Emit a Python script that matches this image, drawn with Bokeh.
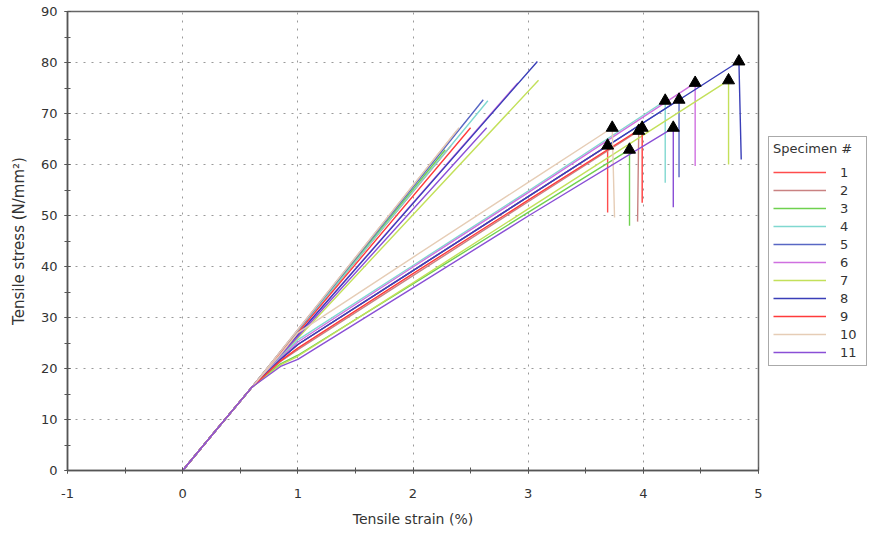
from bokeh.plotting import figure
from bokeh.models import Legend, LegendItem, SingleIntervalTicker
from bokeh.embed import file_html
from bokeh.resources import INLINE

# ---- data ----
specimens = ["1", "2", "3", "4", "5", "6", "7", "8", "9", "10", "11"]
colors = ["#ff4d4d", "#c98282", "#6fd14f", "#80d8d0", "#5867c4", "#cf70e0",
          "#c3e05a", "#3a3fb8", "#ff3b3b", "#e6cdb6", "#8a4fd6"]

# shared initial (elastic) part of every curve
knee_strain = [0.0, 0.3, 0.6]
knee_stress = [0.0, 8.2, 16.3]

# shallow curves: stress read at strain 0.85, 1, 2, 3 %
mid_strain = [0.85, 1.0, 2.0, 3.0]
stress_at_085 = [21.8, 21.4, 20.9, 22.2, 21.8, 22.0, 20.7, 21.8, 21.5, 22.8, 20.4]
stress_at_1 = [24.7, 23.7, 22.6, 25.6, 24.7, 25.2, 22.4, 24.7, 24.0, 27.0, 21.8]
stress_at_2 = [39.2, 38.2, 36.6, 40.2, 39.2, 39.9, 36.8, 39.2, 38.6, 41.8, 35.8]
stress_at_3 = [53.7, 52.7, 50.6, 54.8, 53.7, 54.5, 51.3, 53.7, 53.0, 56.5, 49.9]

# break points (triangles) and the drop after break
break_strain = [3.69, 3.96, 3.88, 4.19, 4.31, 4.45, 4.74, 4.83, 3.99, 3.73, 4.26]
break_stress = [63.7, 66.6, 62.9, 72.5, 72.7, 76.0, 76.5, 80.2, 67.2, 67.2, 67.2]
drop_strain = [3.69, 3.95, 3.88, 4.19, 4.31, 4.45, 4.74, 4.85, 3.99, 3.75, 4.26]
drop_stress = [50.6, 48.8, 48.0, 56.4, 57.5, 59.7, 60.0, 61.0, 52.5, 49.6, 51.6]

# steep curves end at the same stress as the break
steep_end_strain = [2.33, 2.38, 2.28, 2.65, 2.61, 2.91, 3.09, 3.08, 2.50, 2.40, 2.64]

FONT = "DejaVu Sans"

BL, BT = 67, 11
FW, FH = 691, 459
p = figure(frame_width=FW, frame_height=FH, x_range=(-1, 5), y_range=(0, 90),
           output_backend="svg", toolbar_location=None,
           min_border_left=BL, min_border_right=106,
           min_border_top=BT, min_border_bottom=57)

p.outline_line_color = "#666666"
p.outline_line_width = 1.5

for ax in (p.xaxis, p.yaxis):
    ax.axis_line_color = "#555555"
    ax.axis_line_width = 1.5
    ax.major_tick_line_color = "#555555"
    ax.minor_tick_line_color = "#555555"
    ax.major_tick_in = 3
    ax.major_tick_out = 3
    ax.minor_tick_in = 3
    ax.minor_tick_out = 3
    ax.major_label_text_font = FONT
    ax.major_label_text_font_size = "13px"
    ax.major_label_text_color = "#333333"
    ax.axis_label_text_font = FONT
    ax.axis_label_text_font_style = "normal"
    ax.axis_label_text_color = "#333333"

p.xaxis.ticker = SingleIntervalTicker(interval=1, num_minor_ticks=2)
p.yaxis.ticker = SingleIntervalTicker(interval=10, num_minor_ticks=2)
p.xaxis.major_label_overrides = {-1: "-1"}
p.xaxis.axis_label = "Tensile strain (%)"
p.yaxis.axis_label = "Tensile stress (N/mm²)"
p.xaxis.axis_label_text_font_size = "14px"
p.yaxis.axis_label_text_font_size = "15px"
p.xaxis.major_label_standoff = 15
p.yaxis.major_label_standoff = 7
p.xaxis.axis_label_standoff = 10
p.yaxis.axis_label_standoff = 10

p.grid.grid_line_color = "#9a9a9a"
p.grid.grid_line_dash = "2 6"
p.grid.grid_line_width = 1

# steep curves
for i in range(len(specimens)):
    xs = knee_strain + [steep_end_strain[i]]
    ys = knee_stress + [break_stress[i]]
    p.line(xs, ys, color=colors[i], line_width=1.4)

# shallow curves with drop after break
renderers = []
for i in range(len(specimens)):
    xs = knee_strain + mid_strain + [break_strain[i], drop_strain[i]]
    ys = knee_stress + [stress_at_085[i], stress_at_1[i], stress_at_2[i],
                        stress_at_3[i], break_stress[i], drop_stress[i]]
    r = p.line(xs, ys, color=colors[i], line_width=1.4)
    renderers.append(r)

p.scatter(break_strain, break_stress, marker="triangle", size=12,
          color="black")

legend = Legend(items=[LegendItem(label=s, renderers=[r])
                       for s, r in zip(specimens, renderers)],
                title="Specimen #", location=(10, 104))
legend.title_text_font = FONT
legend.title_text_font_size = "13px"
legend.title_text_font_style = "normal"
legend.title_text_color = "#333333"
legend.label_text_font = FONT
legend.label_text_font_size = "13px"
legend.label_text_color = "#333333"
legend.glyph_width = 53
legend.glyph_height = 18
legend.label_height = 18
legend.label_width = 22
legend.label_standoff = 14
legend.spacing = 0
legend.padding = 4
legend.margin = 0
legend.title_standoff = 7
legend.border_line_color = "#555555"
legend.border_line_width = 1.5
legend.background_fill_color = "white"
legend.background_fill_alpha = 1.0
p.add_layout(legend, "right")

open("out.html", "w").write(file_html(p, INLINE))
